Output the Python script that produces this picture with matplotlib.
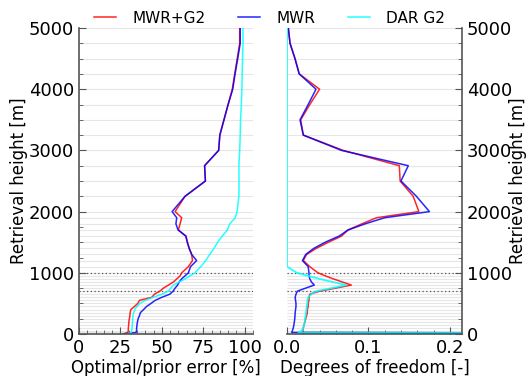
import numpy as np
import matplotlib
matplotlib.use('Agg')
import matplotlib.pyplot as plt
from matplotlib.ticker import MultipleLocator

# retrieval levels [m]
heights = [0, 25] + list(range(50, 1000, 50)) + list(range(1000, 2001, 100)) + list(range(2250, 5001, 250))

# optimal/prior error [%]
err_mwr_g2 = [26.5, 29.5, 29.7, 29.8, 30.0, 30.1, 30.4, 30.7, 30.9, 31.3, 33.5, 35.5, 36.5, 44.0, 45.5,
              48.8, 51.0, 54.0, 57.0, 59.0, 61.0,
              62.0, 66.0, 68.5, 68.0, 66.5, 65.5, 64.5, 60.0, 61.0, 62.0, 58.0,
              64.0, 76.3, 75.8, 84.3, 85.0, 87.5, 90.0, 92.5, 94.0, 95.5, 97.0, 97.0]
err_mwr = [26.5, 34.5, 34.7, 34.8, 35.0, 35.3, 35.7, 36.5, 37.1, 39.0, 40.8, 43.5, 46.0, 50.0, 54.8,
           56.8, 58.0, 59.5, 60.5, 61.9, 64.0,
           66.0, 67.3, 71.0, 68.0, 66.5, 65.3, 64.5, 59.8, 58.5, 59.0, 56.2,
           64.0, 76.3, 75.8, 84.3, 85.0, 87.5, 90.0, 92.8, 94.2, 95.8, 97.3, 97.3]
err_dar = [29.0, 31.5, 31.8, 32.0, 32.2, 32.3, 32.4, 32.5, 33.0, 33.7, 35.0, 36.7, 40.0, 44.8, 50.0,
           53.8, 55.5, 57.0, 60.5, 64.0, 67.0,
           70.0, 73.5, 76.5, 78.9, 81.5, 83.7, 86.5, 89.5, 91.0, 94.3, 95.4,
           96.5, 96.6, 96.5, 97.0, 97.3, 97.5, 98.0, 98.3, 98.5, 98.7, 99.0, 99.0]

# degrees of freedom [-]
dof_mwr_g2 = [1.0, 0.018, 0.019, 0.020, 0.021, 0.022, 0.023, 0.024, 0.025, 0.025, 0.026, 0.026, 0.027, 0.027, 0.028,
              0.040, 0.060, 0.079, 0.068, 0.057, 0.047,
              0.038, 0.028, 0.020, 0.024, 0.036, 0.051, 0.067, 0.075, 0.092, 0.110, 0.162,
              0.155, 0.139, 0.138, 0.069, 0.020, 0.0168, 0.028, 0.040, 0.015, 0.0098, 0.0037, 0.0016]
dof_mwr = [1.0, 0.0058, 0.0065, 0.0077, 0.0085, 0.009, 0.0095, 0.0098, 0.010, 0.0105, 0.011, 0.011, 0.0105, 0.010, 0.011,
           0.0127, 0.023, 0.0335, 0.030, 0.028, 0.027,
           0.027, 0.026, 0.019, 0.023, 0.033, 0.047, 0.064, 0.075, 0.096, 0.120, 0.175,
           0.159, 0.140, 0.149, 0.067, 0.020, 0.016, 0.026, 0.0356, 0.015, 0.0098, 0.0037, 0.0016]
dof_dar = [1.0, 0.014, 0.018, 0.020, 0.021, 0.022, 0.022, 0.023, 0.023, 0.024, 0.024, 0.025, 0.025, 0.026, 0.030,
           0.036, 0.055, 0.073, 0.056, 0.040, 0.026,
           0.012, 0.0, 0.0, 0.0, 0.0, 0.0, 0.0, 0.0, 0.0, 0.0, 0.0,
           0.0, 0.0, 0.0, 0.0, 0.0, 0.0, 0.0, 0.0, 0.0, 0.0, 0.0, 0.0]

marked_levels = [700, 1000]

tick_fs = 13
lab_fs = 12
spine_col = '#555555'

fig = plt.figure(figsize=(5.28, 3.76), dpi=100)
ax1 = fig.add_axes([0.1496, 0.1117, 0.3295, 0.8138])
ax2 = fig.add_axes([0.5436, 0.1117, 0.3314, 0.8138])

for ax in (ax1, ax2):
    ax.hlines(heights, 0, 1, transform=ax.get_yaxis_transform(), color='#e6e6e6', lw=0.8, zorder=0)
    ax.hlines(marked_levels, 0, 1, transform=ax.get_yaxis_transform(), color='#555555',
              lw=0.9, linestyles=(0, (1, 2)), zorder=1)
    ax.set_ylim(0, 5000)
    ax.yaxis.set_major_locator(MultipleLocator(1000))
    ax.yaxis.set_minor_locator(MultipleLocator(250))
    ax.spines['top'].set_visible(False)
    for s in ax.spines.values():
        s.set_color(spine_col)
        s.set_linewidth(1.2)
    ax.tick_params(which='both', direction='in', colors=spine_col, labelcolor='black', labelsize=tick_fs)
    ax.tick_params(which='major', length=5)
    ax.tick_params(which='minor', length=3)

ax1.set_ylabel('Retrieval height [m]', fontsize=lab_fs, labelpad=0.5)
ax2.set_ylabel('Retrieval height [m]', fontsize=lab_fs, labelpad=-2.5)

l1, = ax1.plot(err_mwr_g2, heights, color='red', lw=1.1, alpha=0.85, label='MWR+G2')
l2, = ax1.plot(err_mwr, heights, color='blue', lw=1.1, alpha=0.85, label='MWR')
l3, = ax1.plot(err_dar, heights, color='cyan', lw=1.1, alpha=0.85, label='DAR G2')
ax1.set_xlim(0, 105)
ax1.xaxis.set_major_locator(MultipleLocator(25))
ax1.xaxis.set_minor_locator(MultipleLocator(5))
ax1.spines['right'].set_visible(False)
ax1.tick_params(axis='y', right=False, which='both')
ax1.tick_params(axis='x', top=False, which='both')
ax1.set_xlabel('Optimal/prior error [%]', fontsize=lab_fs, labelpad=1.5)

ax2.plot(dof_mwr_g2, heights, color='red', lw=1.1, alpha=0.85)
ax2.plot(dof_mwr, heights, color='blue', lw=1.1, alpha=0.85)
ax2.plot(dof_dar, heights, color='cyan', lw=1.3, alpha=0.85)
ax2.set_xlim(0, 0.215)
ax2.xaxis.set_major_locator(MultipleLocator(0.1))
ax2.xaxis.set_minor_locator(MultipleLocator(0.02))
ax2.spines['left'].set_visible(False)
ax2.yaxis.tick_right()
ax2.yaxis.set_label_position('right')
ax2.tick_params(axis='y', left=False, which='both')
ax2.tick_params(axis='x', top=False, which='both')
ax2.set_xlabel('Degrees of freedom [-]', fontsize=lab_fs, labelpad=1.5)

fig.legend(handles=[l1, l2, l3], loc='center', bbox_to_anchor=(0.511, 0.952), ncol=3,
           frameon=False, fontsize=11, handlelength=1.44, columnspacing=2.15, handletextpad=1.05,
           borderpad=0, borderaxespad=0)

fig.savefig('out.png', dpi=100)
